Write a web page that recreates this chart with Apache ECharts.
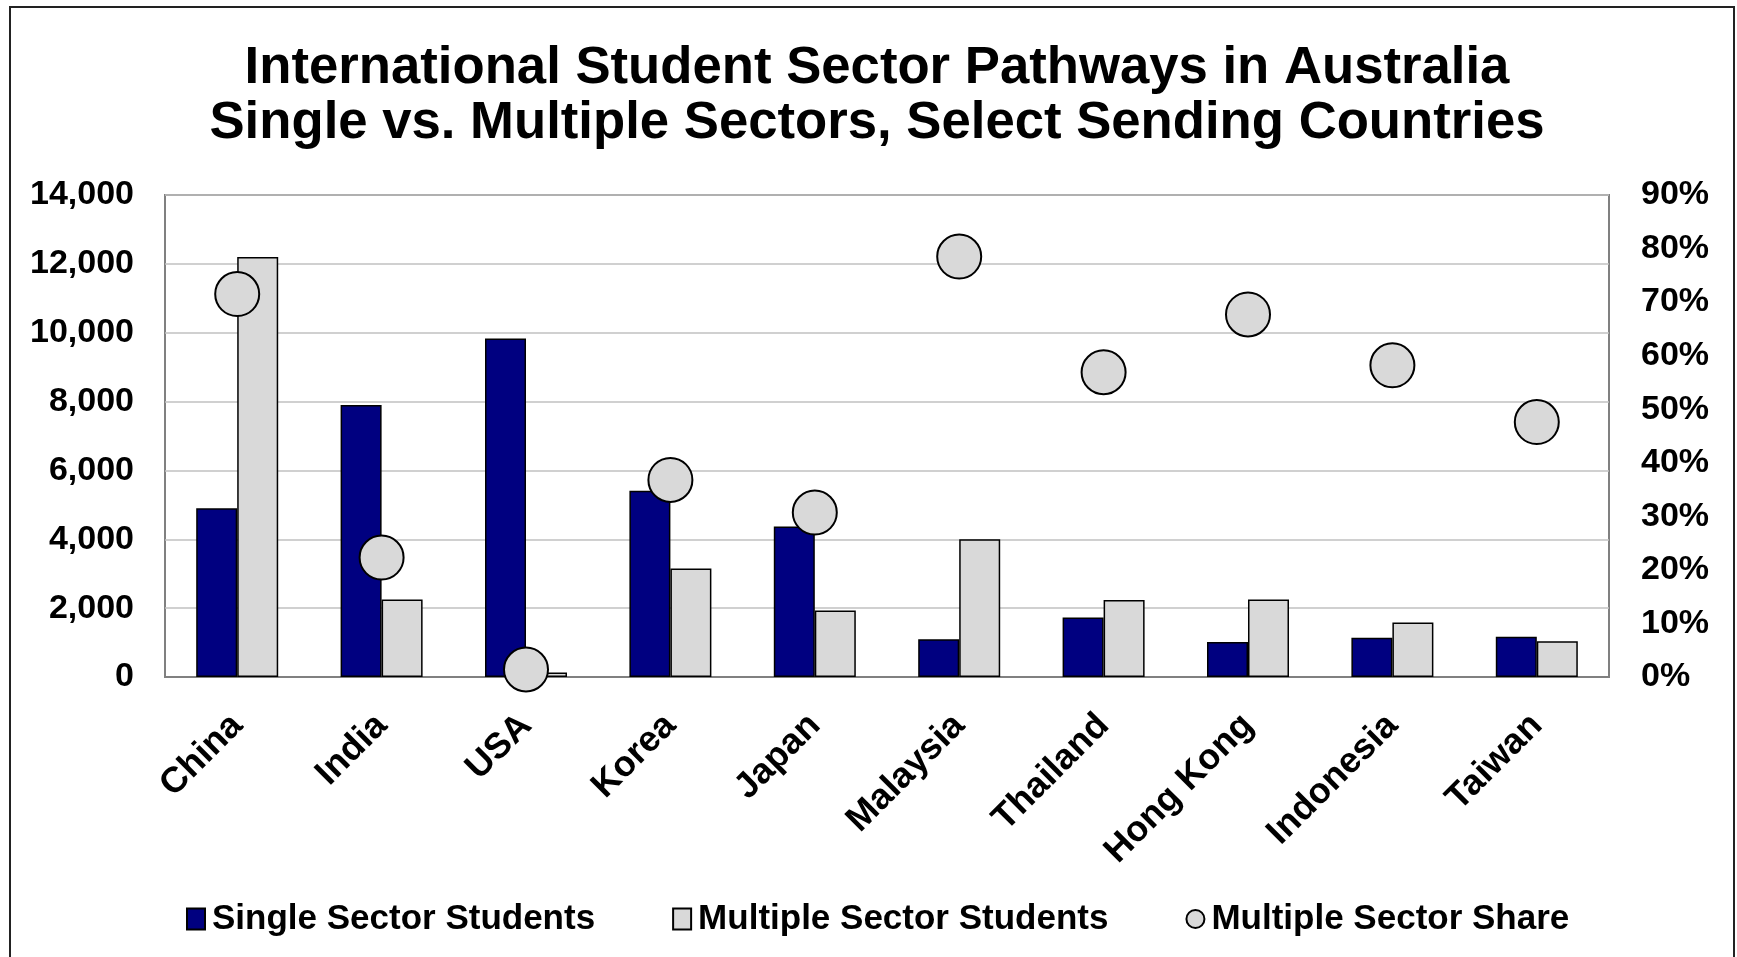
<!DOCTYPE html>
<html>
<head>
<meta charset="utf-8">
<title>International Student Sector Pathways in Australia</title>
<script src="https://cdn.jsdelivr.net/npm/echarts@6/dist/echarts.min.js"></script>
<style>
  html, body { margin: 0; padding: 0; background: #ffffff; }
  #chart { width: 1737px; height: 957px; }
</style>
</head>
<body>
<div id="chart"></div>
<script>
// Sending countries
const countries = ['China', 'India', 'USA', 'Korea', 'Japan', 'Malaysia', 'Thailand', 'Hong Kong', 'Indonesia', 'Taiwan'];
// Students who studied in one sector only
const singleSector = [4900, 7900, 9830, 5410, 4370, 1100, 1730, 1020, 1140, 1170];
// Students who moved across more than one sector
const multipleSector = [12200, 2250, 130, 3150, 1930, 4000, 2240, 2250, 1580, 1040];
// Share of students in multiple sectors (%)
const multipleShare = [71.5, 22.3, 1.4, 36.8, 30.7, 78.5, 56.9, 67.7, 58.2, 47.6];

const seriesNames = ['Single Sector Students', 'Multiple Sector Students', 'Multiple Sector Share'];
const titleLines = ['International Student Sector Pathways in Australia', 'Single vs. Multiple Sectors, Select Sending Countries'];

const FONT = '"Liberation Sans", Arial, sans-serif';
const NAVY = '#000080';
const LIGHT = '#d9d9d9';

const chart = echarts.init(document.getElementById('chart'), null, { renderer: 'canvas' });

chart.setOption({
  backgroundColor: '#ffffff',
  animation: false,
  textStyle: { fontFamily: FONT },
  title: {
    text: titleLines.join('\n'),
    left: 872,
    top: 36,
    textAlign: 'center',
    textStyle: {
      fontFamily: FONT,
      fontSize: 52.7,
      fontWeight: 'bold',
      color: '#000000',
      lineHeight: 55
    }
  },
  graphic: [{
    type: 'rect',
    shape: { x: 10, y: 7, width: 1724, height: 980 },
    style: { fill: 'none', stroke: '#222222', lineWidth: 2 },
    silent: true,
    z: -1
  }],
  legend: {
    left: 181,
    top: 894,
    itemGap: 77,
    itemWidth: 18,
    itemHeight: 21,
    textStyle: {
      fontFamily: FONT,
      fontSize: 35,
      fontWeight: 'bold',
      color: '#000000',
      lineHeight: 40,
      padding: [0, 0, 0, 2]
    },
    data: [
      { name: seriesNames[0], icon: 'rect' },
      { name: seriesNames[1], icon: 'rect' },
      { name: seriesNames[2], icon: 'circle' }
    ]
  },
  grid: {
    left: 165,
    right: 128,
    top: 195,
    bottom: 280,
    show: true,
    borderColor: '#808080',
    borderWidth: 2,
    containLabel: false
  },
  xAxis: {
    type: 'category',
    data: countries,
    axisLine: { show: true, lineStyle: { color: '#808080', width: 2 } },
    axisTick: { show: false },
    axisLabel: {
      rotate: 45,
      margin: 43,
      interval: 0,
      fontFamily: FONT,
      fontSize: 36,
      fontWeight: 'bold',
      color: '#000000'
    }
  },
  yAxis: [
    {
      type: 'value',
      min: 0,
      max: 14000,
      interval: 2000,
      axisLine: { show: false },
      axisTick: { show: false },
      splitLine: { show: true, lineStyle: { color: '#c0c0c0', width: 1.5 } },
      axisLabel: {
        margin: 31,
        fontFamily: FONT,
        fontSize: 34,
        fontWeight: 'bold',
        color: '#000000',
        padding: [4, 0, 0, 0],
        formatter: v => v.toLocaleString('en-US')
      }
    },
    {
      type: 'value',
      min: 0,
      max: 90,
      interval: 10,
      axisLine: { show: false },
      axisTick: { show: false },
      splitLine: { show: false },
      axisLabel: {
        margin: 32,
        fontFamily: FONT,
        fontSize: 34,
        fontWeight: 'bold',
        color: '#000000',
        padding: [4, 0, 0, 0],
        formatter: '{value}%'
      }
    }
  ],
  series: [
    {
      name: seriesNames[0],
      type: 'bar',
      data: singleSector,
      barWidth: 41,
      barGap: '0%',
      itemStyle: { color: NAVY, borderColor: '#000000', borderWidth: 1.5 },
      z: 2
    },
    {
      name: seriesNames[1],
      type: 'bar',
      data: multipleSector,
      barWidth: 41,
      barGap: '0%',
      itemStyle: { color: LIGHT, borderColor: '#000000', borderWidth: 1.5 },
      z: 2
    },
    {
      name: seriesNames[2],
      type: 'scatter',
      yAxisIndex: 1,
      data: multipleShare,
      symbol: 'circle',
      symbolSize: 44,
      itemStyle: { color: LIGHT, borderColor: '#000000', borderWidth: 2, opacity: 1 },
      z: 5
    }
  ]
});
</script>
</body>
</html>
